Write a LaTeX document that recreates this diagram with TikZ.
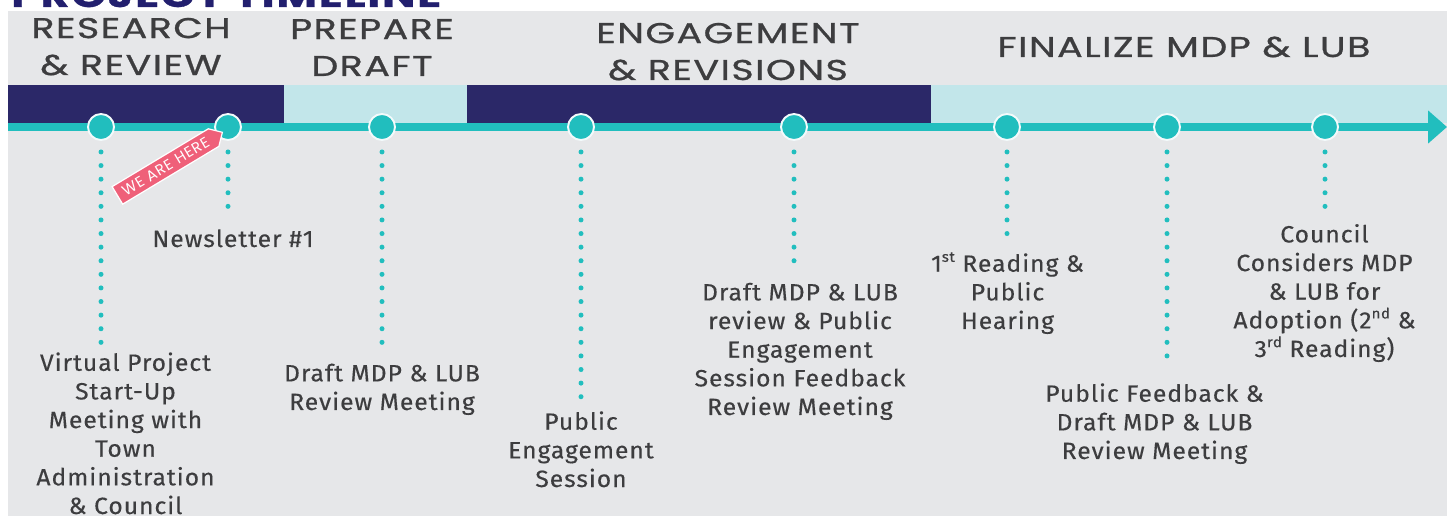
\documentclass[tikz,border=0pt]{standalone}
\usepackage{fontspec}
\setmainfont{Fira Sans}[LetterSpace=4,FakeStretch=1.05,FakeBold=0.3]
\newfontfamily\headfont{Poppins}[LetterSpace=5,FakeStretch=1.33,FakeBold=0.9]
\newfontfamily\tagfont{Poppins}[LetterSpace=6]
\newcommand{\ordsup}[1]{\raisebox{0.42em}{\fontsize{8.2}{8.2}\selectfont #1}}
\usetikzlibrary{arrows.meta,shapes.symbols}
\definecolor{bgGray}{HTML}{E6E7E9}
\definecolor{bandNavy}{HTML}{2B2868}
\definecolor{bandCyan}{HTML}{C2E6EA}
\definecolor{lineTeal}{HTML}{21BEBE}
\definecolor{txtGray}{HTML}{3D3D3F}
\definecolor{tagPink}{HTML}{EF6079}
\definecolor{titleNavy}{HTML}{221F6E}
\begin{document}
\begin{tikzpicture}[x=0.02cm,y=-0.02cm,
	milestone/.style={circle,fill=lineTeal,draw=white!80!bandCyan,line width=1.1pt,minimum size=0.52cm,inner sep=0pt},
	dotline/.style={lineTeal,line width=0.1cm,line cap=round,dash pattern=on 0pt off 0.272cm,shorten <=0.22cm},
	phase/.style={font=\headfont\fontsize{16.3}{21}\selectfont,text=txtGray,align=center,inner sep=0pt,anchor=base},
	evtext/.style={font=\fontsize{13.4}{16.3}\selectfont,text=txtGray,align=center,inner sep=0pt,anchor=base}]
			\useasboundingbox (0,0) rectangle (1453,516);
			\fill[white] (0,0) rectangle (1453,516);
			\fill[bgGray] (8,11) rectangle (1447,516);
			\node[font=\headfont\bfseries\fontsize{19}{19}\selectfont,text=titleNavy,anchor=base west,inner sep=0pt] (title) at (11,7) {PROJECT TIMELINE};
			% phase headings (anchored at last line)
			\node[phase] (research) at (131,75) {RESEARCH\\\& REVIEW};
			\node[phase] (prepare) at (372,76) {PREPARE\\DRAFT};
			\node[phase] (engage) at (728,80) {ENGAGEMENT\\\& REVISIONS};
			\node[phase] (finalize) at (1184,57) {FINALIZE MDP \& LUB};
			% phase bands
			\fill[bandNavy] (8,85) rectangle (284,123);
			\fill[bandCyan] (284,85) rectangle (467,123);
			\fill[bandNavy] (467,85) rectangle (931,123);
			\fill[bandCyan] (931,85) rectangle (1447,123);
			% time axis
			\coordinate (start) at (8,127);
			\coordinate (end) at (1447,127);
			\draw[lineTeal,line width=0.16cm,-{Triangle[length=0.38cm,width=0.64cm]}] (start) -- (end);
			% milestones
			\node[milestone] (m1) at (101,127) {};
			\node[milestone] (m2) at (228,127) {};
			\node[milestone] (m3) at (382,127) {};
			\node[milestone] (m4) at (581,127) {};
			\node[milestone] (m5) at (794,127) {};
			\node[milestone] (m6) at (1007,127) {};
			\node[milestone] (m7) at (1167,127) {};
			\node[milestone] (m8) at (1325,127) {};
			\coordinate (d1) at (101,344);
			\coordinate (d2) at (228,217);
			\coordinate (d3) at (382,346);
			\coordinate (d4) at (581,402);
			\coordinate (d5) at (794,266);
			\coordinate (d6) at (1007,240);
			\coordinate (d7) at (1167,367);
			\coordinate (d8) at (1325,207);
			\draw[dotline] (m1) -- (d1);
			\draw[dotline] (m2) -- (d2);
			\draw[dotline] (m3) -- (d3);
			\draw[dotline] (m4) -- (d4);
			\draw[dotline] (m5) -- (d5);
			\draw[dotline] (m6) -- (d6);
			\draw[dotline] (m7) -- (d7);
			\draw[dotline] (m8) -- (d8);
			% milestone texts (anchored at last line)
			\node[evtext] (t1) at (125.5,514) {Virtual Project\\Start-Up\\Meeting with\\Town\\Administration\\\& Council};
			\node[evtext] (t2) at (233,247) {Newsletter \#1};
			\node[evtext] (t3) at (382,410) {Draft MDP \& LUB\\Review Meeting};
			\node[evtext] (t4) at (581,487) {Public\\Engagement\\Session};
			\node[evtext] (t5) at (800,415) {Draft MDP \& LUB\\review \& Public\\Engagement\\Session Feedback\\Review Meeting};
			\node[evtext] (t6) at (1007.5,329) {1\ordsup{st} Reading \&\\Public\\Hearing};
			\node[evtext] (t7) at (1154.5,459) {Public Feedback \&\\Draft MDP \& LUB\\Review Meeting};
			\node[evtext] (t8) at (1324.5,357) {Council\\Considers MDP\\\& LUB for\\Adoption (2\ordsup{nd} \&\\3\ordsup{rd} Reading)};
			% we are here tag
			\node[signal,signal to=east,signal from=nowhere,fill=tagPink,draw=white,line width=0.7pt,rotate=31,text=white,font=\tagfont\fontsize{8.5}{8.5}\selectfont,minimum height=0.41cm,minimum width=2.45cm,inner sep=1pt] (here) at (165.5,166.5) {WE ARE HERE};
\end{tikzpicture}
\end{document}
